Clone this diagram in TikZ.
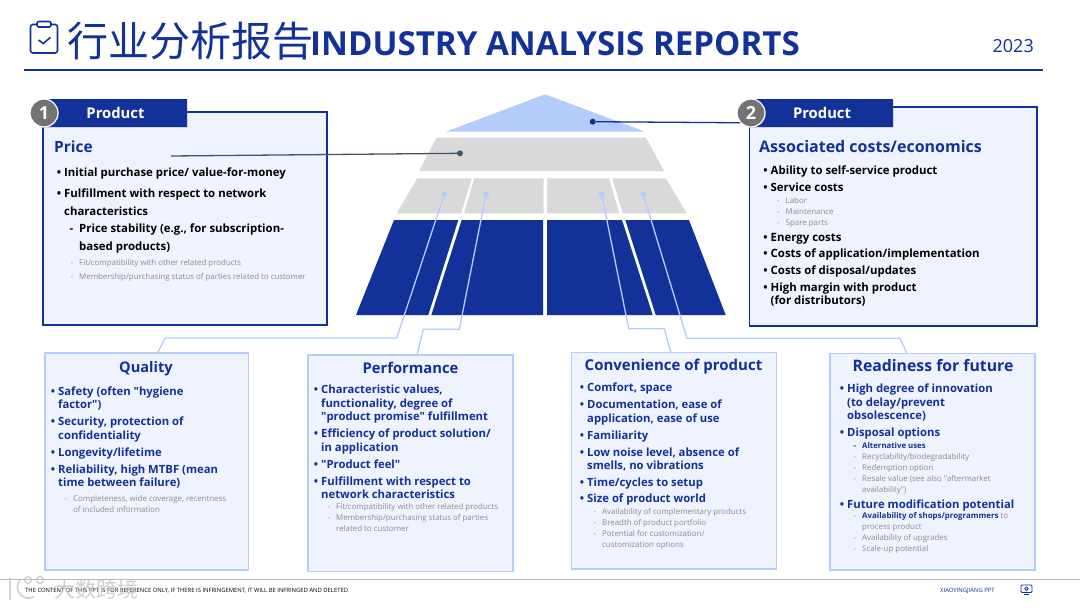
\documentclass[tikz,border=0pt]{standalone}
\usepackage{fontspec}
\setmainfont{Open Sans}
\newfontfamily\cjk{Noto Sans CJK SC}
\usetikzlibrary{shadows}
\definecolor{RepBlue}{HTML}{12329A}
\definecolor{RepLight}{HTML}{B4CCFB}
\definecolor{RepPale}{HTML}{EEF3FE}
\definecolor{RepGrey}{HTML}{D9D9D9}
\definecolor{RepSlate}{HTML}{44546A}
\definecolor{RepSmall}{HTML}{8C8C8C}
\newcommand{\bl}[1]{\llap{•\hspace{3pt}}#1}
\newcommand{\ds}[1]{\llap{-\hspace{6pt}}#1}
\newcommand{\fs}[1]{\fontsize{#1}{#1}\selectfont}
\newcommand{\qt}{\textquotedbl}

\begin{document}
\begin{tikzpicture}[x=1pt,y=-1pt,
  darkpanel/.style={draw=RepBlue,line width=1.2pt,fill=RepPale,inner sep=0pt},
  lightpanel/.style={draw=RepLight,line width=1.5pt,fill=RepPale,inner sep=0pt},
  headbox/.style={fill=RepBlue,text=white,font=\fs{14.8}\bfseries,minimum width=142pt,minimum height=28pt,inner sep=0pt,drop shadow={opacity=.25,shadow xshift=1pt,shadow yshift=-1pt}},
  badge/.style={circle,fill=black!55,draw=white,line width=1.2pt,text=white,font=\fs{18}\bfseries,minimum size=28pt,inner sep=0pt,drop shadow={opacity=.35,shadow xshift=1pt,shadow yshift=-1pt}},
  lightdot/.style={circle,fill=RepLight,minimum size=6pt,inner sep=0pt},
  link/.style={draw=RepLight,line width=1.3pt},
  panelhead/.style={text=RepBlue,inner sep=0pt,yshift=-1.5pt},
  topitem/.style={anchor=mid west,inner sep=0pt,font=\fs{11.4}\bfseries,text=black,yshift=-1.5pt},
  topsub/.style={topitem,xshift=15pt},
  lowitem/.style={anchor=mid west,inner sep=0pt,font=\fs{11.3}\bfseries,text=RepBlue,yshift=-1.5pt},
  lowsub/.style={anchor=mid west,inner sep=0pt,xshift=15pt,font=\fs{7.8}\bfseries,text=RepBlue,yshift=-1pt},
  smallitem/.style={anchor=mid west,inner sep=0pt,xshift=15pt,font=\fs{7.9},text=RepSmall,yshift=-1pt}]
  \useasboundingbox (0,0) rectangle (1080,608);
  \fill[white] (0,0) rectangle (1080,608);

  \draw[RepBlue,line width=1.6pt,rounded corners=2.5pt] (36.5,24.5) -- (30.5,24.5) -- (30.5,53) -- (57.5,53) -- (57.5,24.5) -- (51.5,24.5);
  \draw[RepBlue,line width=1.6pt,rounded corners=2pt] (37,21.5) rectangle (51,27);
  \draw[RepBlue,line width=1.6pt] (38.5,40) -- (43.3,43.5) -- (50.5,37.3);
  \node[anchor=west,inner sep=0pt,text=RepBlue,font=\fs{41}\cjk] (titlecn) at (67,41) {行业分析报告};
  \node[anchor=base west,inner sep=0pt,text=RepBlue,font=\fs{33.1}\bfseries] (titleen) at (310,55) {INDUSTRY ANALYSIS REPORTS};
  \node[anchor=base east,inner sep=0pt,text=RepBlue,font=\fs{18}] (year) at (1034,52.5) {2023};
  \draw[RepBlue,line width=2.4pt] (24,70) -- (1043,70);

  \fill[RepLight] (545,94.3) -- (645,131.7) -- (446,131.7) -- cycle;
  \fill[RepGrey] (436.7,137.7) -- (646,137.7) -- (664,171) -- (419,171) -- cycle;
  \fill[RepGrey] (417.3,178.3) -- (471.7,178.3) -- (461,213.3) -- (396.7,213.3) -- cycle;
  \fill[RepGrey] (474.3,178.3) -- (543.7,178.3) -- (543.7,213.3) -- (464,213.3) -- cycle;
  \fill[RepGrey] (547,178.3) -- (609,178.3) -- (619.3,213.3) -- (547,213.3) -- cycle;
  \fill[RepGrey] (612.3,178.3) -- (665.7,178.3) -- (686.7,213.3) -- (622.7,213.3) -- cycle;
  \fill[RepBlue] (394,220) -- (458.3,220) -- (428.3,315) -- (356,315) -- cycle;
  \fill[RepBlue] (461.7,220) -- (543,220) -- (543,315) -- (431.3,315) -- cycle;
  \fill[RepBlue] (547,220) -- (622,220) -- (652.7,315) -- (547,315) -- cycle;
  \fill[RepBlue] (625.3,220) -- (689,220) -- (725.7,315) -- (655.7,315) -- cycle;

  \node[lightdot] (dotq) at (444.3,194.3) {};
  \node[lightdot] (dotp) at (486,194.3) {};
  \node[lightdot] (dotc) at (601.7,194.3) {};
  \node[lightdot] (dotr) at (643.3,194.3) {};

  \node[darkpanel,minimum width=284pt,minimum height=213pt] (price) at (185,218.5) {};
  \node[darkpanel,minimum width=287.5pt,minimum height=219pt] (costs) at (893.2,216.5) {};
  \node[lightpanel,minimum width=203.5pt,minimum height=217pt] (quality) at (146.5,461.5) {};
  \node[lightpanel,minimum width=205pt,minimum height=216.5pt] (perform) at (410.5,463.2) {};
  \node[lightpanel,minimum width=205pt,minimum height=216.5pt] (conven) at (674,460.9) {};
  \node[lightpanel,minimum width=205pt,minimum height=216.5pt] (ready) at (932.7,461.9) {};

  \coordinate (kneeqa) at (396.7,338);
  \coordinate (kneeqb) at (165,338);
  \coordinate (kneepa) at (459.3,329.3);
  \coordinate (kneepb) at (423.3,329.3);
  \coordinate (kneeca) at (628.7,328.7);
  \coordinate (kneecb) at (664.3,328.7);
  \coordinate (kneera) at (687,338.3);
  \coordinate (kneerb) at (900,338.3);
  \draw[link] (dotq) -- (kneeqa) -- (kneeqb) -- (158,0 |- quality.north);
  \draw[link] (dotp) -- (kneepa) -- (kneepb) -- (417.3,0 |- perform.north);
  \draw[link] (dotc) -- (kneeca) -- (kneecb) -- (670.7,0 |- conven.north);
  \draw[link] (dotr) -- (kneera) -- (kneerb) -- (906.7,0 |- ready.north);

  \node[headbox] (headone) at (115.5,113) {Product};
  \node[headbox] (headtwo) at (822,113) {Product};
  \node[badge] (badgeone) at (44,113) {1};
  \node[badge] (badgetwo) at (751,113) {2};

  \node[circle,fill=RepSlate,minimum size=6pt,inner sep=0pt] (dotgrey) at (460,153.3) {};
  \coordinate (greyend) at (171,156);
  \draw[RepSlate,line width=1.3pt] (greyend) -- (dotgrey);
  \node[circle,fill=RepBlue,minimum size=6pt,inner sep=0pt] (dotblue) at (592.7,121.7) {};
  \draw[RepBlue,line width=1.3pt] (dotblue) -- (badgetwo.222);

  \node[panelhead,anchor=mid west,yshift=-2pt,font=\fs{15.5}\bfseries] (pricehead) at (54,146) {Price};
  \foreach \y/\s/\txt in {172/topitem/{\bl{Initial purchase price/ value-for-money}},
    193.5/topitem/{\bl{Fulfillment with respect to network}},
    211/topitem/{characteristics},
    228/topsub/{\ds{Price stability (e.g., for subscription-}},
    246/topsub/{based products)},
    262/smallitem/{\ds{Fit/compatibility with other related products}},
    276/smallitem/{\ds{Membership/purchasing status of parties related to customer}}}
    {\node[\s] (pr\y) at (64,\y) {\txt};}

  \node[panelhead,anchor=mid west,yshift=-2pt,font=\fs{16}\bfseries] (costhead) at (759,146) {Associated costs/economics};
  \foreach \y/\s/\txt in {170/topitem/{\bl{Ability to self-service product}},
    187/topitem/{\bl{Service costs}},
    199.5/smallitem/{\ds{Labor}},
    210.5/smallitem/{\ds{Maintenance}},
    221.5/smallitem/{\ds{Spare parts}},
    237/topitem/{\bl{Energy costs}},
    253.5/topitem/{\bl{Costs of application/implementation}},
    270/topitem/{\bl{Costs of disposal/updates}},
    287/topitem/{\bl{High margin with product}},
    300/topitem/{(for distributors)}}
    {\node[\s] (co\y) at (770.5,\y) {\txt};}

  \node[panelhead,font=\fs{14.6}\bfseries] (qualhead) at (146,367) {Quality};
  \foreach \y/\s/\txt in {391/lowitem/{\bl{Safety (often \qt hygiene}},
    404.5/lowitem/{factor\qt)},
    421.5/lowitem/{\bl{Security, protection of}},
    435/lowitem/{confidentiality},
    452/lowitem/{\bl{Longevity/lifetime}},
    469/lowitem/{\bl{Reliability, high MTBF (mean}},
    482/lowitem/{time between failure)},
    498/smallitem/{\ds{Completeness, wide coverage, recentness}},
    509/smallitem/{of included information}}
    {\node[\s] (qu\y) at (58,\y) {\txt};}

  \node[panelhead,font=\fs{14.8}\bfseries] (perfhead) at (410.5,366) {Performance};
  \foreach \y/\s/\txt in {389.5/lowitem/{\bl{Characteristic values,}},
    403/lowitem/{functionality, degree of},
    416.5/lowitem/{\qt product promise\qt{} fulfillment},
    433.5/lowitem/{\bl{Efficiency of product solution/}},
    447/lowitem/{in application},
    464/lowitem/{\bl{\qt Product feel\qt}},
    481/lowitem/{\bl{Fulfillment with respect to}},
    494/lowitem/{network characteristics},
    506/smallitem/{\ds{Fit/compatibility with other related products}},
    517/smallitem/{\ds{Membership/purchasing status of parties}},
    528/smallitem/{related to customer}}
    {\node[\s] (pe\y) at (321,\y) {\txt};}

  \node[panelhead,font=\fs{15}\bfseries] (convhead) at (673.5,365.5) {Convenience of product};
  \foreach \y/\s/\txt in {387/lowitem/{\bl{Comfort, space}},
    404/lowitem/{\bl{Documentation, ease of}},
    418/lowitem/{application, ease of use},
    435/lowitem/{\bl{Familiarity}},
    452/lowitem/{\bl{Low noise level, absence of}},
    465/lowitem/{smells, no vibrations},
    482/lowitem/{\bl{Time/cycles to setup}},
    498.5/lowitem/{\bl{Size of product world}},
    511/smallitem/{\ds{Availability of complementary products}},
    522/smallitem/{\ds{Breadth of product portfolio}},
    533/smallitem/{\ds{Potential for customization/}},
    544/smallitem/{customization options}}
    {\node[\s] (cv\y) at (587,\y) {\txt};}

  \node[panelhead,font=\fs{15.8}\bfseries] (readhead) at (933,364.5) {Readiness for future};
  \foreach \y/\s/\txt in {388/lowitem/{\bl{High degree of innovation}},
    402/lowitem/{(to delay/prevent},
    415/lowitem/{obsolescence)},
    432/lowitem/{\bl{Disposal options}},
    445/lowsub/{\ds{Alternative uses}},
    456/smallitem/{\ds{Recyclability/biodegradability}},
    467/smallitem/{\ds{Redemption option}},
    478/smallitem/{\ds{Resale value (see also \qt aftermarket}},
    489/smallitem/{availability\qt)},
    504/lowitem/{\bl{Future modification potential}},
    515/smallitem/{\ds{{\bfseries\color{RepBlue}Availability of shops/programmers} to}},
    526/smallitem/{process product},
    537/smallitem/{\ds{Availability of upgrades}},
    548/smallitem/{\ds{Scale-up potential}}}
    {\node[\s] (re\y) at (847,\y) {\txt};}

  \draw[black!28,line width=1pt] (0,579.5) -- (1080,579.5);
  \node[anchor=mid west,inner sep=0pt,font=\fs{5.87}] (notice) at (25,590) {THE CONTENT OF THIS PPT IS FOR REFERENCE ONLY, IF THERE IS INFRINGEMENT, IT WILL BE INFRINGED AND DELETED};
  \node[anchor=mid west,inner sep=0pt,text=RepBlue,font=\fs{5.9}] (brand) at (940,590) {XIAOYINGJIANG PPT};
  \draw[RepBlue,line width=.8pt,rounded corners=1pt] (1021,585) rectangle (1032,592.5);
  \draw[RepBlue,line width=.8pt] (1026.5,588.7) circle (1.8pt);
  \draw[RepBlue,line width=1pt] (1024,594.5) -- (1029,594.5);

  \draw[black!22,line width=2pt,opacity=.8] (10,578) -- (10,600);
  \draw[black!22,line width=1.8pt,opacity=.8] (20,580) arc[start angle=140,end angle=300,radius=11pt];
  \draw[black!22,line width=1.4pt,opacity=.8] (28,580) circle (3.5pt) (40,580) circle (3.5pt);
  \node[text=black!22,opacity=.85,inner sep=0pt,font=\fs{21}\cjk] (mark) at (96,589) {大数跨境};
\end{tikzpicture}
\end{document}
